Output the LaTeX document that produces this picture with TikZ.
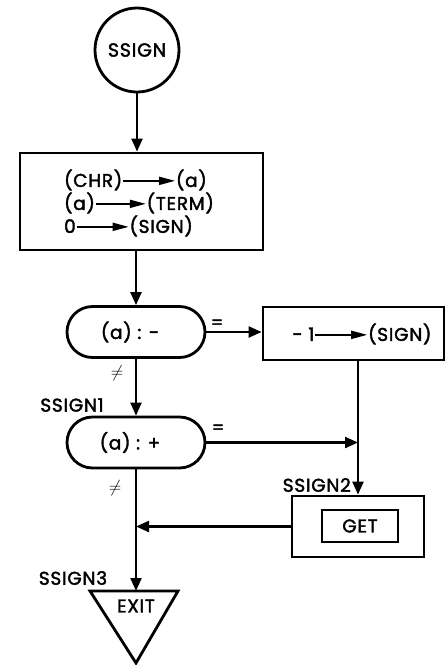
\documentclass[tikz,border=0pt]{standalone}
\usepackage{fontspec}
\setmainfont{Poppins}[FakeBold=2,LetterSpace=4]
\usetikzlibrary{arrows.meta,shapes.misc}
\newcommand\longarr[1]{\tikz[baseline=-0.6ex]\draw[line width=1.8pt,-{Triangle[length=16pt,width=8pt]}] (0,0)--(#1,0);}
\begin{document}
\begin{tikzpicture}[x=1pt,y=-1pt,
  box/.style={draw,line width=2.8pt,inner sep=0pt},
  conn/.style={line width=2.2pt,-{Triangle[length=13pt,width=11pt]}},
  lbl/.style={font=\fontsize{18.5}{23}\selectfont},
  sym/.style={font=\fontsize{17}{18}\selectfont}]
\useasboundingbox[fill=white] (0,0) rectangle (447,665);
\node[circle,draw,line width=2.8pt,minimum size=84pt,inner sep=0pt,font=\fontsize{19}{20}\selectfont] (start) at (137,50) {SSIGN};
\node[box,minimum width=243pt,minimum height=97pt] (init) at (141.5,201.5) {};
\node[lbl,align=left] (inittxt) at (139,203) {(CHR)\longarr{52pt}(a)\\(a)\longarr{50pt}(TERM)\\0\longarr{52pt}(SIGN)};
\node[box,rounded rectangle,minimum width=138pt,minimum height=51pt] (cap1) at (136,332) {};
\node[lbl] (cap1txt) at (130,332) {(a) : -};
\node[box,minimum width=181pt,minimum height=53pt] (neg) at (353.5,333.5) {};
\node[lbl] (negtxt) at (362,334) {- 1\longarr{52pt}(SIGN)};
\node[box,rounded rectangle,minimum width=138pt,minimum height=51pt] (cap2) at (136,442.5) {};
\node[lbl] (cap2txt) at (130,442.5) {(a) : +};
\node[box,minimum width=132pt,minimum height=61pt] (getbox) at (358,526.5) {};
\node[draw,line width=2.2pt,minimum width=76pt,minimum height=32pt,inner sep=0pt,lbl] (getin) at (360,526) {GET};
\coordinate (tl) at (90,591);
\coordinate (tr) at (178,591);
\coordinate (tb) at (136,663);
\draw[line width=2.8pt,line join=miter] (tl) -- (tr) -- (tb) -- cycle;
\node[lbl] (exit) at (136,606) {EXIT};
\coordinate (exittop) at (136,591);
% connectors
\draw[conn] (start.south) -- (start.south |- init.north);
\draw[conn] (cap1.north |- init.south) -- (cap1.north);
\draw[conn] (cap1.east) -- (cap1.east -| neg.west);
\draw[conn] (cap1.south) -- (cap2.north);
\draw[conn] (getbox.north |- neg.south) -- (getbox.north);
\coordinate (j1) at (getbox.north |- cap2.east);
\draw[conn] (cap2.east) -- (j1);
\coordinate (j2) at (cap2.south |- getbox.west);
\draw[conn] (getbox.west) -- (j2);
\draw[conn] (cap2.south) -- (exittop);
% labels
\node[sym] (eq1) at (217,324) {=};
\node[sym] (ne1) at (117,373) {$\neq$};
\node[sym] (eq2) at (218,429) {=};
\node[sym] (ne2) at (115,488) {$\neq$};
\node[lbl] (l1) at (72,405) {SSIGN1};
\node[lbl,anchor=east,inner sep=0pt] (l2) at (351,485) {SSIGN2};
\node[lbl] (l3) at (73,578) {SSIGN3};
\end{tikzpicture}
\end{document}
